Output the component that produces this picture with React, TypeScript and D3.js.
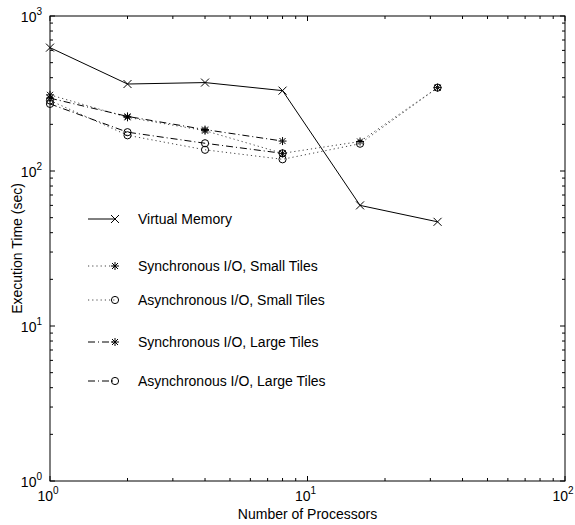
import React from 'react';
import * as d3 from 'd3';

// processors on the x axis, execution time in seconds on y
const processors = [1, 2, 4, 8, 16, 32];
const virtualMemory = [625, 364, 372, 330, 60, 47];
const syncSmall = [310, 222, 182, 130, 155, 345];
const asyncSmall = [285, 170, 137, 119, 150, 345];
const syncLarge = [295, 225, 185, 156];
const asyncLarge = [271, 178, 151, 130];

const xTickExps = [0, 1, 2];
const yTickExps = [0, 1, 2, 3];

const legendLabels = [
  'Virtual Memory',
  'Synchronous I/O, Small Tiles',
  'Asynchronous I/O, Small Tiles',
  'Synchronous I/O, Large Tiles',
  'Asynchronous I/O, Large Tiles',
];

const W = 575;
const H = 525;
const margin = { top: 16, right: 10, bottom: 44, left: 50 };
const innerW = W - margin.left - margin.right;
const innerH = H - margin.top - margin.bottom;
const font = 'Liberation Sans, Arial, Helvetica, sans-serif';

type Style = { dash: string; color: string; width: number; marker: 'x' | 'star' | 'o' };

const styles: Style[] = [
  { dash: '', color: '#000', width: 1, marker: 'x' },
  { dash: '1.2,3', color: '#444', width: 1, marker: 'star' },
  { dash: '1.2,3', color: '#444', width: 1, marker: 'o' },
  { dash: '7,3,1,3', color: '#000', width: 1, marker: 'star' },
  { dash: '7,3,1,3', color: '#000', width: 1, marker: 'o' },
];

const Marker = ({ type, x, y }: { type: string; x: number; y: number }) => {
  const r = 4;
  if (type === 'x') {
    return (
      <path
        d={`M${x - r},${y - r}L${x + r},${y + r}M${x - r},${y + r}L${x + r},${y - r}`}
        stroke="#000"
        strokeWidth={1}
        fill="none"
      />
    );
  }
  if (type === 'star') {
    const d = r * 0.75;
    return (
      <path
        d={`M${x - r},${y}L${x + r},${y}M${x},${y - r}L${x},${y + r}M${x - d},${y - d}L${x + d},${y + d}M${x - d},${y + d}L${x + d},${y - d}`}
        stroke="#000"
        strokeWidth={1}
        fill="none"
      />
    );
  }
  return <circle cx={x} cy={y} r={3.6} stroke="#000" strokeWidth={1} fill="none" />;
};

export default function App() {
  const x = d3.scaleLog().domain([1, 100]).range([0, innerW]);
  const y = d3.scaleLog().domain([1, 1000]).range([innerH, 0]);

  const series = [
    { xs: processors, ys: virtualMemory },
    { xs: processors, ys: syncSmall },
    { xs: processors, ys: asyncSmall },
    { xs: processors.slice(0, syncLarge.length), ys: syncLarge },
    { xs: processors.slice(0, asyncLarge.length), ys: asyncLarge },
  ];

  const line = d3
    .line<[number, number]>()
    .x((d) => x(d[0]))
    .y((d) => y(d[1]));

  // minor ticks for log axes
  const xMinor: number[] = [];
  for (let e = 0; e < 2; e++) for (let k = 2; k <= 9; k++) xMinor.push(k * Math.pow(10, e));
  const yMinor: number[] = [];
  for (let e = 0; e < 3; e++) for (let k = 2; k <= 9; k++) yMinor.push(k * Math.pow(10, e));

  const legendY = [219, 266, 300, 342, 381];

  return (
    <div style={{ position: 'absolute', left: 0, top: 0 }}>
      <svg width={W} height={H} style={{ display: 'block', background: '#fff' }} fontFamily={font}>
        <g transform={`translate(${margin.left},${margin.top})`}>
          {/* ticks on all four sides, inward */}
          {xMinor.map((v) => (
            <g key={'xm' + v}>
              <line x1={x(v)} x2={x(v)} y1={innerH} y2={innerH - 3} stroke="#000" />
              <line x1={x(v)} x2={x(v)} y1={0} y2={3} stroke="#000" />
            </g>
          ))}
          {xTickExps.map((e) => (
            <g key={'xM' + e}>
              <line x1={x(10 ** e)} x2={x(10 ** e)} y1={innerH} y2={innerH - 5} stroke="#000" />
              <line x1={x(10 ** e)} x2={x(10 ** e)} y1={0} y2={5} stroke="#000" />
              <text x={x(10 ** e) - 2} y={innerH + 20} fontSize={14} textAnchor="middle">
                10
                <tspan fontSize={10} dy={-7}>
                  {e}
                </tspan>
              </text>
            </g>
          ))}
          {yMinor.map((v) => (
            <g key={'ym' + v}>
              <line x1={0} x2={3} y1={y(v)} y2={y(v)} stroke="#000" />
              <line x1={innerW} x2={innerW - 3} y1={y(v)} y2={y(v)} stroke="#000" />
            </g>
          ))}
          {yTickExps.map((e) => (
            <g key={'yM' + e}>
              <line x1={0} x2={5} y1={y(10 ** e)} y2={y(10 ** e)} stroke="#000" />
              <line x1={innerW} x2={innerW - 5} y1={y(10 ** e)} y2={y(10 ** e)} stroke="#000" />
              <text x={-8} y={y(10 ** e) + 6} fontSize={14} textAnchor="end">
                10
                <tspan fontSize={10} dy={-7}>
                  {e}
                </tspan>
              </text>
            </g>
          ))}
          <rect x={0} y={0} width={innerW} height={innerH} fill="none" stroke="#000" strokeWidth={1} />

          {series.map((s, i) => {
            const pts = s.xs.map((v, j) => [v, s.ys[j]] as [number, number]);
            return (
              <g key={'s' + i}>
                <path
                  d={line(pts) || ''}
                  fill="none"
                  stroke={styles[i].color}
                  strokeWidth={styles[i].width}
                  strokeDasharray={styles[i].dash || undefined}
                />
                {pts.map((p, j) => (
                  <Marker key={j} type={styles[i].marker} x={x(p[0])} y={y(p[1])} />
                ))}
              </g>
            );
          })}
        </g>

        {/* legend */}
        {legendLabels.map((lab, i) => (
          <g key={'l' + i}>
            <line
              x1={88}
              x2={115}
              y1={legendY[i]}
              y2={legendY[i]}
              stroke={styles[i].color}
              strokeWidth={styles[i].width}
              strokeDasharray={styles[i].dash || undefined}
            />
            <Marker type={styles[i].marker} x={115} y={legendY[i]} />
            <text x={138} y={legendY[i] + 5} fontSize={14}>
              {lab}
            </text>
          </g>
        ))}

        <text x={margin.left + innerW / 2} y={H - 6} fontSize={14} textAnchor="middle">
          Number of Processors
        </text>
        <text
          transform={`translate(22,${margin.top + innerH / 2}) rotate(-90)`}
          fontSize={14}
          textAnchor="middle"
        >
          Execution Time (sec)
        </text>
      </svg>
    </div>
  );
}
